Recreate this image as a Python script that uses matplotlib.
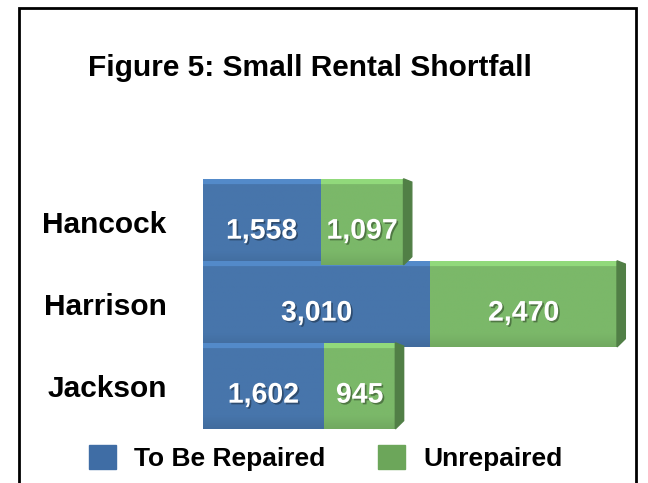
import numpy as np
import matplotlib
matplotlib.use("Agg")
import matplotlib.pyplot as plt
import matplotlib.patheffects as pe
from matplotlib.patches import Polygon, Patch, Rectangle
from matplotlib.colors import to_rgb

# data
counties = ['Hancock', 'Harrison', 'Jackson']
to_be_repaired = [1558, 3010, 1602]
unrepaired = [1097, 2470, 945]

blue = '#4775AB'
green = '#7BB869'
green_side = '#517F46'
legend_blue = '#3F6DA5'
legend_green = '#6CA65A'

plt.rcParams['font.family'] = ['Liberation Sans', 'DejaVu Sans']
plt.rcParams['font.weight'] = 'bold'


def shade(ax, bar, color):
    # mostly flat face, lighter top edge and slightly darker bottom edge
    c = np.array(to_rgb(color))
    t = np.linspace(0, 1, 100)
    k = np.ones_like(t)
    k[t < 0.07] = 1.18
    k = k - 0.08 * np.clip((t - 0.85) / 0.15, 0, 1)
    img = np.clip(c[None, None, :] * k[:, None, None], 0, 1)
    x0, y0 = bar.get_x(), bar.get_y()
    im = ax.imshow(img, extent=(x0, x0 + bar.get_width(), y0 + bar.get_height(), y0),
                   origin='upper', aspect='auto', zorder=2, interpolation='bilinear')
    im.set_clip_path(bar)


def main():
    fig = plt.figure(figsize=(6.48, 4.83), dpi=100)
    ax = fig.add_axes([0.313, 0.110, 0.659, 0.559])

    y = np.arange(len(counties))
    h = 1.05
    b1 = ax.barh(y, to_be_repaired, height=h, color=blue, zorder=1)
    b2 = ax.barh(y, unrepaired, left=to_be_repaired, height=h, color=green, zorder=1)
    for bar in b1:
        shade(ax, bar, blue)
    for bar in b2:
        shade(ax, bar, green)

    # darker end face for the 3d look
    dx = 110
    for yi, a, b in zip(y, to_be_repaired, unrepaired):
        tot = a + b
        side = Polygon([(tot, yi - h / 2), (tot + dx, yi - h / 2 + 0.04),
                        (tot + dx, yi + h / 2 - 0.1), (tot, yi + h / 2)],
                       closed=True, color=green_side, zorder=2)
        ax.add_patch(side)

    # value labels
    shadow = [pe.withSimplePatchShadow(offset=(1.2, -1.2), shadow_rgbFace='black', alpha=0.35)]
    for yi, a, b in zip(y, to_be_repaired, unrepaired):
        ax.text(a / 2, yi + 0.12, f"{a:,}", color='white', fontsize=20.5, fontweight='bold',
                ha='center', va='center', zorder=4, path_effects=shadow)
        ax.text(a + b / 2, yi + 0.12, f"{b:,}", color='white', fontsize=20.5, fontweight='bold',
                ha='center', va='center', zorder=4, path_effects=shadow)

    ax.set_xlim(0, 5650)
    ax.set_ylim(2.537, -0.756)
    ax.set_xticks([])
    ax.set_yticks(y, counties, fontsize=21.5, fontweight='bold')
    ax.tick_params(axis='y', length=0, pad=26)
    for s in ax.spines.values():
        s.set_visible(False)

    fig.text(0.478, 0.859, "Figure 5: Small Rental Shortfall", fontsize=21.5,
             fontweight='bold', ha='center', va='center')

    handles = [Patch(color=legend_blue), Patch(color=legend_green)]
    fig.legend(handles, ['To Be Repaired', 'Unrepaired'], loc='center',
               bbox_to_anchor=(0.503, 0.052), ncol=2, frameon=False, fontsize=19,
               handlelength=1.0, handleheight=1.0, handletextpad=0.7, columnspacing=2.0)

    # frame around the figure, open at the bottom
    fig.add_artist(Rectangle((19 / 648, -0.05), (636 - 19) / 648, 1.033, fill=False,
                             lw=2, edgecolor='black', transform=fig.transFigure, clip_on=False))

    fig.savefig('out.png', dpi=100)


if __name__ == "__main__":
    main()
